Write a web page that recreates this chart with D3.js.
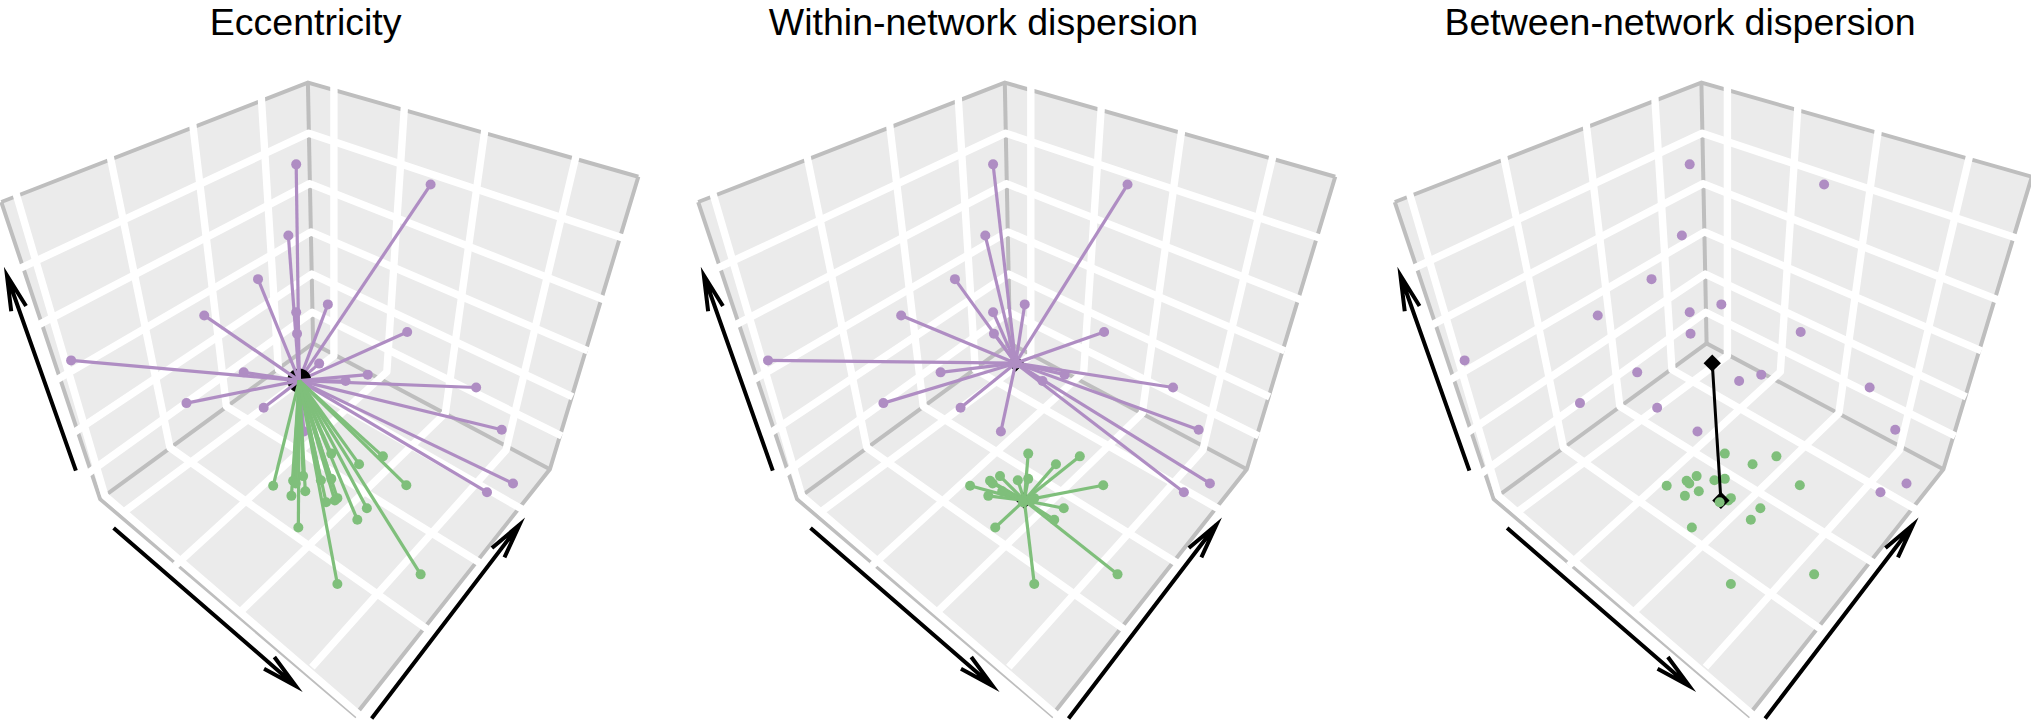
<!DOCTYPE html>
<html><head><meta charset="utf-8">
<script src="https://cdn.jsdelivr.net/npm/d3@7"></script>
<style>html,body{margin:0;padding:0;background:#fff}svg{display:block}</style>
</head><body><div id="chart"></div>
<script>
const panelTitles = ["Eccentricity", "Within-network dispersion", "Between-network dispersion"];
const titleCentres = [305.7, 983.5, 1680];
const panelOrigins = [0, 696.9, 1393.5];

const purpleX = [683,993,665,595,756,683,471,685,939,164,736,562,848,797,1098,430,608,701,1157,1183,1123];
const purpleY = [358,402,513,608,663,680,687,727,723,785,792,811,816,830,844,878,888,940,936,1053,1072];
const greenX = [764,883,828,937,630,699,676,682,740,764,672,704,778,772,752,846,824,688,778,970];
const greenY = [988,994,1011,1057,1058,1037,1047,1053,1046,1043,1080,1070,1085,1090,1094,1107,1132,1149,1272,1251];

const sharedCentre = [690, 829];
const purpleCentre = [735, 791];
const greenCentre = [755, 1090];

const corners = {T:[710,180],B:[722,748],L:[3,440],LB:[231,1087],R:[1472,385],RB:[1268,1022],F:[819,1558]};
const leftRibs = [[[38,425],[242,1080],[830,1558]],[[255,345],[392,975],[980,1367]],[[445,275],[522,885],[1100,1222]],[[603,218],[642,805],[1200,1107]]];
const rightRibs = [[[770,192],[770,775],[290,1112]],[[932,240],[892,810],[410,1227]],[[1117,290],[1027,900],[555,1332]],[[1327,345],[1167,980],[725,1447]]];
const ringLeftEnds = [[45,585],[92,706],[133,826],[172,941],[203,1031]];
const ringBack = [[712,290],[714,400],[717,505],[719,597],[720,680]];
const ringRightEnds = [[1428,516],[1388,651],[1348,761],[1313,861],[1288,946]];
const arrowLines = [[[175,1025],[16,600]],[[262,1150],[682,1494]],[[857,1565],[1198,1143]]];

const purple = "#AF8DC3", green = "#7FBF7B", face = "#EBEBEB", edge = "#BEBEBE";

const svg = d3.select("#chart").append("svg").attr("width",2031).attr("height",720);
const yScale = d3.scaleLinear().domain([0,1558]).range([0,715.3]);

const zipPts = (xs,ys) => xs.map((x,i)=>[x,ys[i]]);
const purplePts = zipPts(purpleX,purpleY), greenPts = zipPts(greenX,greenY);

panelOrigins.forEach((ox,pi)=>{
  const xScale = d3.scaleLinear().domain([0,1468]).range([ox,ox+636.6]);
  const line = d3.line().x(d=>xScale(d[0])).y(d=>yScale(d[1]));
  const g = svg.append("g");
  const c = corners;
  [[c.T,c.L,c.LB,c.B],[c.T,c.R,c.RB,c.B],[c.B,c.LB,c.F,c.RB]].forEach(q=>{
    g.append("path").attr("d",line(q)+"Z").attr("fill",face);
  });
  [[c.L,c.T,c.R],[c.L,c.LB,c.F,c.RB,c.R],[c.T,c.B],[c.LB,c.B,c.RB]].forEach(e=>{
    g.append("path").attr("d",line(e)).attr("fill","none").attr("stroke",edge)
     .attr("stroke-width",4).attr("stroke-linejoin","miter");
  });
  const grid = [...leftRibs,...rightRibs,...ringBack.map((b,i)=>[ringLeftEnds[i],b,ringRightEnds[i]])];
  g.selectAll("path.grid").data(grid).join("path").attr("class","grid")
    .attr("d",line).attr("fill","none").attr("stroke","#fff").attr("stroke-width",7.4)
    .attr("stroke-linejoin","round").attr("stroke-linecap","square");
  arrowLines.forEach(a=>{
    const x0=xScale(a[0][0]),y0=yScale(a[0][1]),x1=xScale(a[1][0]),y1=yScale(a[1][1]);
    const th=Math.atan2(y0-y1,x0-x1),len=36,sp=0.22;
    const bar=s=>[x1+len*Math.cos(th+s*sp),y1+len*Math.sin(th+s*sp)];
    const b1=bar(1),b2=bar(-1);
    g.append("path").attr("fill","none").attr("stroke","#000").attr("stroke-width",4)
     .attr("stroke-linejoin","miter").attr("stroke-miterlimit",12)
     .attr("d",`M${x0},${y0}L${x1},${y1}M${b1}L${x1},${y1}L${b2}`);
  });
  const drawDiamond=p=>g.append("path").attr("d",d3.symbol().type(d3.symbolSquare).size(150)())
     .attr("transform",`translate(${xScale(p[0])},${yScale(p[1])}) rotate(45)`).attr("fill","#000");
  const spokes=(pts,cen,col)=>g.selectAll(null).data(pts).join("path")
     .attr("d",d=>line([cen,d])).attr("stroke",col).attr("stroke-width",3.2).attr("fill","none");
  const dots=(pts,col)=>g.selectAll(null).data(pts).join("circle")
     .attr("cx",d=>xScale(d[0])).attr("cy",d=>yScale(d[1])).attr("r",5).attr("fill",col);
  if(pi===0){
    const under = purplePts.filter(d=>d[0]>sharedCentre[0] && d[1]<800);
    const over = purplePts.filter(d=>!under.includes(d));
    spokes(under,sharedCentre,purple);
    g.append("circle").attr("cx",xScale(sharedCentre[0])).attr("cy",yScale(sharedCentre[1])).attr("r",12).attr("fill","#000");
    spokes(over,sharedCentre,purple); dots(purplePts,purple);
    spokes(greenPts,sharedCentre,green); dots(greenPts,green);
  } else if(pi===1){
    drawDiamond(purpleCentre); drawDiamond(greenCentre);
    spokes(purplePts,purpleCentre,purple); dots(purplePts,purple);
    spokes(greenPts,greenCentre,green); dots(greenPts,green);
  } else {
    dots(purplePts,purple); dots(greenPts,green);
    g.append("path").attr("d",line([purpleCentre,greenCentre])).attr("stroke","#000").attr("stroke-width",3);
    drawDiamond(purpleCentre); drawDiamond(greenCentre);
    g.selectAll("circle").filter(d=>d===greenPts[14]).raise();
  }
  svg.append("text").text(panelTitles[pi]).attr("x",titleCentres[pi]).attr("y",34.5)
    .attr("text-anchor","middle").attr("font-family","'Liberation Sans',Arial,sans-serif")
    .attr("font-size",37.5).attr("fill","#000");
});
</script></body></html>
